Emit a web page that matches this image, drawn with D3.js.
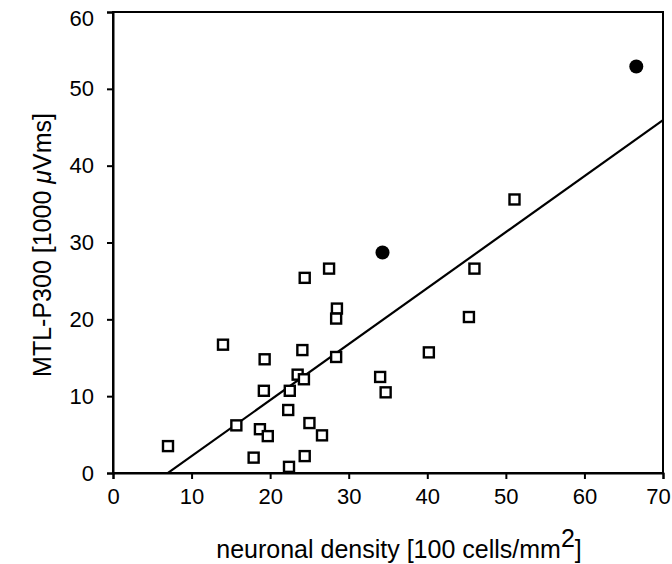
<!DOCTYPE html>
<html lang="en">
<head>
<meta charset="UTF-8">
<title>MTL-P300 vs neuronal density</title>
<style>
  html, body { margin: 0; padding: 0; background: #fff; }
  svg { display: block; }
  text { font-family: "Liberation Sans", Arial, Helvetica, sans-serif; fill: #000; }
</style>
</head>
<body>
<svg id="chart" width="672" height="564"></svg>
<script src="https://cdn.jsdelivr.net/npm/d3@7"></script>
<script>
// open squares
const densityOpen = [7.0, 14.0, 15.7, 19.3, 19.2, 18.7, 19.7, 17.9, 22.4, 22.3, 22.5, 23.5, 24.3, 24.1, 24.4,
  27.5, 28.5, 28.4, 28.4, 25.0, 26.6, 24.4, 34.0, 34.7, 40.2, 45.3, 46.0, 51.1];
const p300Open = [3.5, 16.7, 6.2, 14.8, 10.7, 5.7, 4.8, 2.0, 0.8, 8.2, 10.7, 12.8, 12.2, 16.0, 25.4,
  26.6, 21.4, 20.1, 15.1, 6.5, 4.9, 2.2, 12.5, 10.5, 15.7, 20.3, 26.6, 35.6];
// filled circles
const densityFilled = [34.3, 66.6];
const p300Filled = [28.7, 52.9];
// regression line y = slope * x + intercept, drawn from fitStart to 70
const fitSlope = 0.729;
const fitIntercept = -5.1;
const fitStart = 7.0;

const xTicks = [0, 10, 20, 30, 40, 50, 60, 70];
const yTicks = [0, 10, 20, 30, 40, 50, 60];

const svg = d3.select('#chart');
const m = {left: 113, right: 663, top: 12, bottom: 473};

const x = d3.scaleLinear().domain([0, 70]).range([m.left, m.right]);
const y = d3.scaleLinear().domain([0, 60]).range([m.bottom, m.top]);

// frame
svg.append('rect')
  .attr('x', m.left).attr('y', m.top)
  .attr('width', m.right - m.left).attr('height', m.bottom - m.top)
  .attr('fill', 'none').attr('stroke', '#000').attr('stroke-width', 2);

const xAxis = svg.append('g')
  .attr('transform', `translate(0,${m.bottom})`)
  .call(d3.axisBottom(x).tickValues(xTicks).tickSize(6).tickPadding(9).tickFormat(d3.format('d')));
const yAxis = svg.append('g')
  .attr('transform', `translate(${m.left},0)`)
  .call(d3.axisLeft(y).tickValues(yTicks).tickSize(6).tickPadding(13).tickFormat(d3.format('d')));

[xAxis, yAxis].forEach(g => {
  g.select('.domain').attr('stroke-width', 2);
  g.selectAll('.tick line').attr('stroke-width', 2);
  g.selectAll('.tick text').attr('font-size', 22).attr('font-family', '"Liberation Sans", Arial, sans-serif');
});
// last x label sits a bit inside the edge, top y label a bit lower, as in the print
xAxis.selectAll('.tick text').filter(d => d === 70).attr('dx', -5);
yAxis.selectAll('.tick text').filter(d => d === 60).attr('dy', '0.32em').attr('y', 6);

// regression line
const fitY = v => fitSlope * v + fitIntercept;
svg.append('line')
  .attr('x1', x(fitStart)).attr('y1', y(Math.max(0, fitY(fitStart))))
  .attr('x2', x(70)).attr('y2', y(fitY(70)))
  .attr('stroke', '#000').attr('stroke-width', 2.2);

// open squares
const sq = 10;
svg.append('g').selectAll('rect')
  .data(densityOpen.map((d, i) => [d, p300Open[i]]))
  .join('rect')
  .attr('x', d => x(d[0]) - sq / 2)
  .attr('y', d => y(d[1]) - sq / 2)
  .attr('width', sq).attr('height', sq)
  .attr('fill', '#fff').attr('stroke', '#000').attr('stroke-width', 2.4);

// filled circles
svg.append('g').selectAll('circle')
  .data(densityFilled.map((d, i) => [d, p300Filled[i]]))
  .join('circle')
  .attr('cx', d => x(d[0])).attr('cy', d => y(d[1]))
  .attr('r', 7).attr('fill', '#000');

// axis titles
const xt = svg.append('text')
  .attr('x', 399).attr('y', 558)
  .attr('text-anchor', 'middle').attr('font-size', 25);
xt.append('tspan').text('neuronal density [100 cells/mm');
xt.append('tspan').attr('dy', -11).text('2');
xt.append('tspan').attr('dy', 11).text(']');

const yt = svg.append('text')
  .attr('transform', 'translate(51,245) rotate(-90)')
  .attr('text-anchor', 'middle').attr('font-size', 25);
yt.append('tspan').text('MTL-P300 [1000 ');
yt.append('tspan').attr('font-style', 'italic').text('\u03bc');
yt.append('tspan').text('Vms]');
</script>
</body>
</html>
